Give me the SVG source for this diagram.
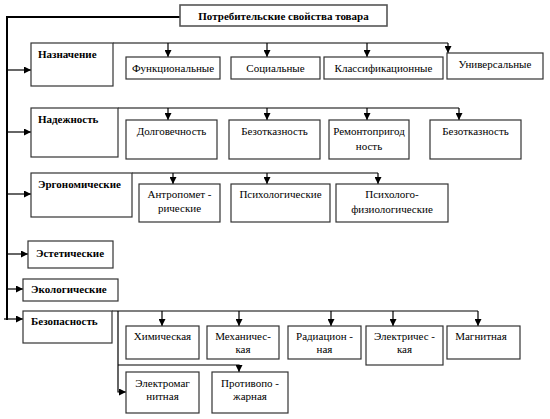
<svg xmlns="http://www.w3.org/2000/svg" width="550" height="419" viewBox="0 0 550 419">
<defs>
<style>
.box{fill:#fff;stroke:#333;stroke-width:1.2}
.t{font-family:"Liberation Serif","Times New Roman",serif;font-size:11px;fill:#000;text-anchor:middle}
.b{font-family:"Liberation Serif","Times New Roman",serif;font-size:11px;font-weight:bold;fill:#000}
.ln{fill:none;stroke:#000;stroke-width:1.2}
.main{fill:none;stroke:#000;stroke-width:2}
</style>
<marker id="ah" markerUnits="userSpaceOnUse" markerWidth="7" markerHeight="7" viewBox="0 0 7 7" refX="7" refY="3.5" orient="auto">
<path d="M0,0 L7,3.5 L0,7 z" fill="#000"/>
</marker>
</defs>
<rect width="550" height="419" fill="#fff"/>
<g id="connectors">
<path class="main" d="M180,17 H7 V320"/>
<path class="ln" d="M7,70 H31" marker-end="url(#ah)"/>
<path class="ln" d="M7,132 H31" marker-end="url(#ah)"/>
<path class="ln" d="M7,194 H31" marker-end="url(#ah)"/>
<path class="ln" d="M7,254 H28" marker-end="url(#ah)"/>
<path class="ln" d="M7,289 H23" marker-end="url(#ah)"/>
<path class="ln" d="M4,319 H23" marker-end="url(#ah)"/>
<path class="ln" d="M113,43 H448"/>
<path class="ln" d="M168,43 V57" marker-end="url(#ah)"/>
<path class="ln" d="M267,43 V57" marker-end="url(#ah)"/>
<path class="ln" d="M367,43 V57" marker-end="url(#ah)"/>
<path class="ln" d="M448,43 V53" marker-end="url(#ah)"/>
<path class="ln" d="M118,108 H459"/>
<path class="ln" d="M168,108 V120" marker-end="url(#ah)"/>
<path class="ln" d="M267,108 V120" marker-end="url(#ah)"/>
<path class="ln" d="M367,108 V120" marker-end="url(#ah)"/>
<path class="ln" d="M459,108 V120" marker-end="url(#ah)"/>
<path class="ln" d="M132,173 H378"/>
<path class="ln" d="M173,173 V184" marker-end="url(#ah)"/>
<path class="ln" d="M267,173 V184" marker-end="url(#ah)"/>
<path class="ln" d="M378,173 V184" marker-end="url(#ah)"/>
<path class="ln" d="M112,311 H478"/>
<path class="ln" d="M162,311 V326" marker-end="url(#ah)"/>
<path class="ln" d="M239,311 V326" marker-end="url(#ah)"/>
<path class="ln" d="M331,311 V326" marker-end="url(#ah)"/>
<path class="ln" d="M393,311 V326" marker-end="url(#ah)"/>
<path class="ln" d="M478,311 V326" marker-end="url(#ah)"/>
<path class="ln" d="M118,311 V392 H126" marker-end="url(#ah)"/>
<path class="ln" d="M118,365 H239 V372" marker-end="url(#ah)"/>
</g>
<g id="title"><rect class="box" x="180" y="5" width="207" height="21" style="stroke:#555;stroke-width:1.6"/><text class="b" x="283.5" y="19.5" text-anchor="middle">Потребительские свойства товара</text></g>
<g id="naznachenie"><rect class="box" x="31" y="43" width="82" height="43"/><text class="b" x="38" y="58">Назначение</text></g>
<g id="funkc"><rect class="box" x="126" y="57" width="94" height="22"/><text class="t" x="173" y="72">Функциональные</text></g>
<g id="soc"><rect class="box" x="231" y="57" width="89" height="22"/><text class="t" x="275.5" y="72">Социальные</text></g>
<g id="klass"><rect class="box" x="324" y="57" width="119" height="22"/><text class="t" x="383.5" y="72">Классификационные</text></g>
<g id="univ"><rect class="box" x="447" y="53" width="96" height="26"/><text class="t" x="495" y="68">Универсальные</text></g>
<g id="nadezhnost"><rect class="box" x="31" y="108" width="87" height="49"/><text class="b" x="38" y="123">Надежность</text></g>
<g id="dolg"><rect class="box" x="126" y="120" width="91" height="39"/><text class="t" x="171.5" y="135">Долговечность</text></g>
<g id="bezotk1"><rect class="box" x="229" y="120" width="91" height="39"/><text class="t" x="274.5" y="135">Безотказность</text></g>
<g id="remont"><rect class="box" x="329" y="120" width="80" height="39"/><text class="t" x="369" y="135">Ремонтопригод</text><text class="t" x="369" y="150">ность</text></g>
<g id="bezotk2"><rect class="box" x="430" y="120" width="91" height="39"/><text class="t" x="475.5" y="135">Безотказность</text></g>
<g id="ergo"><rect class="box" x="31" y="173" width="101" height="44"/><text class="b" x="38" y="188">Эргономические</text></g>
<g id="antrop"><rect class="box" x="139" y="184" width="81" height="38"/><text class="t" x="179.5" y="198">Антропомет -</text><text class="t" x="179.5" y="212">рические</text></g>
<g id="psih"><rect class="box" x="231" y="184" width="99" height="38"/><text class="t" x="280.5" y="198">Психологические</text></g>
<g id="psihfiz"><rect class="box" x="336" y="184" width="112" height="38"/><text class="t" x="392" y="198">Психолого-</text><text class="t" x="392" y="213">физиологические</text></g>
<g id="estet"><rect class="box" x="28" y="241" width="85" height="27"/><text class="b" x="36" y="257">Эстетические</text></g>
<g id="ekolog"><rect class="box" x="23" y="279" width="95" height="22"/><text class="b" x="31" y="293">Экологические</text></g>
<g id="bezop"><rect class="box" x="23" y="311" width="89" height="32"/><text class="b" x="31" y="325">Безопасность</text></g>
<g id="him"><rect class="box" x="126" y="326" width="73" height="33"/><text class="t" x="162.5" y="340">Химическая</text></g>
<g id="meh"><rect class="box" x="207" y="326" width="72" height="33"/><text class="t" x="243" y="340">Механичес-</text><text class="t" x="243" y="353">кая</text></g>
<g id="rad"><rect class="box" x="288" y="326" width="73" height="33"/><text class="t" x="324.5" y="340">Радиацион -</text><text class="t" x="324.5" y="353">ная</text></g>
<g id="elek"><rect class="box" x="366" y="326" width="77" height="39"/><text class="t" x="404.5" y="340">Электричес -</text><text class="t" x="404.5" y="353">кая</text></g>
<g id="magn"><rect class="box" x="447" y="326" width="73" height="33"/><text class="t" x="481" y="340">Магнитная</text></g>
<g id="elmag"><rect class="box" x="126" y="372" width="73" height="41"/><text class="t" x="162.5" y="387">Электромаг</text><text class="t" x="162.5" y="400">нитная</text></g>
<g id="protiv"><rect class="box" x="212" y="372" width="76" height="41"/><text class="t" x="250" y="387">Противопо -</text><text class="t" x="250" y="400">жарная</text></g>
</svg>
